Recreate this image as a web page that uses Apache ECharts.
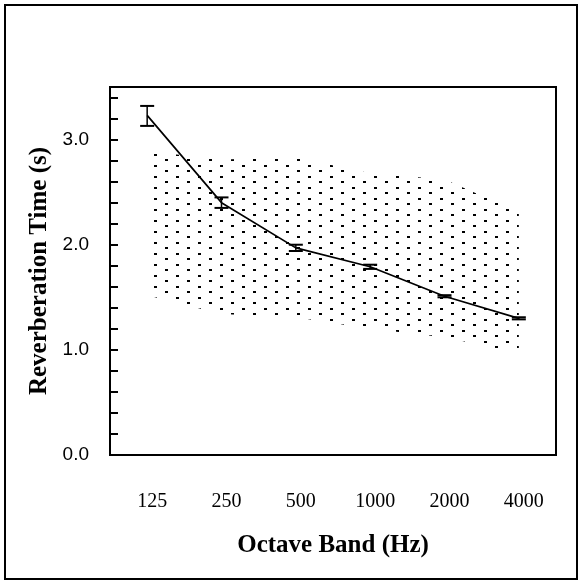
<!DOCTYPE html>
<html>
<head>
<meta charset="utf-8">
<script src="https://cdn.jsdelivr.net/npm/echarts@6/dist/echarts.min.js"></script>
<style>
html,body{margin:0;padding:0;background:#fff;}
#chart{width:580px;height:583px;}
</style>
</head>
<body>
<div id="chart"></div>
<script>
// ---- data ----
var categories = ['125', '250', '500', '1000', '2000', '4000'];
var meanRT   = [3.23, 2.40, 1.97, 1.79, 1.51, 1.30];
var errLow   = [3.13, 2.35, 1.94, 1.77, 1.50, 1.29];
var errHigh  = [3.32, 2.45, 2.00, 1.81, 1.52, 1.31];
var bandLower = [1.52, 1.34, 1.31, 1.20, 1.12, 0.97];
var bandUpper = [2.89, 2.81, 2.83, 2.68, 2.62, 2.31];
var yTickLabels = ['0.0', '1.0', '2.0', '3.0'];

// dotted pattern tile
function makePattern() {
  var c = document.createElement('canvas');
  c.width = 22; c.height = 11;
  var g = c.getContext('2d');
  g.fillStyle = '#000';
  g.fillRect(0, 0, 3, 2);
  g.fillRect(11, 5, 3, 2);
  return c;
}

var bandDiff = bandUpper.map(function (v, i) { return +(v - bandLower[i]).toFixed(3); });
var errData = categories.map(function (c, i) { return [i, errLow[i], errHigh[i]]; });

var chart = echarts.init(document.getElementById('chart'), null, {renderer: 'canvas'});
chart.setOption({
  animation: false,
  backgroundColor: '#fff',
  graphic: [{
    type: 'rect',
    shape: {x: 5, y: 5, width: 572, height: 574},
    style: {fill: 'none', stroke: '#000', lineWidth: 2},
    silent: true
  }],
  grid: {
    left: 110, top: 87, width: 446, height: 368,
    show: true, borderColor: '#000', borderWidth: 2, backgroundColor: 'transparent'
  },
  xAxis: {
    type: 'category',
    data: categories,
    boundaryGap: true,
    axisLine: {lineStyle: {color: '#000', width: 2}},
    axisTick: {inside: true, length: 8, lineStyle: {color: '#000', width: 2}},
    axisLabel: {
      color: '#000', fontFamily: 'Liberation Serif', fontSize: 20,
      margin: 37, padding: [0, 0, 0, 10]
    },
    splitLine: {show: false},
    name: 'Octave Band (Hz)',
    nameLocation: 'middle',
    nameGap: 78,
    nameTextStyle: {color: '#000', fontFamily: 'Liberation Serif', fontWeight: 'bold', fontSize: 25}
  },
  yAxis: {
    type: 'value',
    min: 0, max: 3.5, interval: 0.2,
    axisLine: {show: true, lineStyle: {color: '#000', width: 2}},
    axisTick: {show: true, inside: true, length: 8, lineStyle: {color: '#000', width: 2}},
    axisLabel: {
      color: '#000', fontFamily: 'Liberation Sans', fontSize: 19, margin: 21,
      formatter: function (v) {
        var r = Math.round(v);
        if (Math.abs(v - r) < 1e-6 && yTickLabels[r] !== undefined) return yTickLabels[r];
        return '';
      }
    },
    splitLine: {show: false},
    name: 'Reverberation Time (s)',
    nameLocation: 'middle',
    nameGap: 55,
    nameRotate: 90,
    nameTextStyle: {color: '#000', fontFamily: 'Liberation Serif', fontWeight: 'bold', fontSize: 25}
  },
  series: [
    {
      type: 'line', stack: 'band', data: bandLower,
      symbol: 'none', lineStyle: {opacity: 0}, silent: true, z: 1
    },
    {
      type: 'line', stack: 'band', data: bandDiff,
      symbol: 'none', lineStyle: {opacity: 0}, silent: true, z: 1,
      areaStyle: {color: {image: makePattern(), repeat: 'repeat'}, opacity: 1}
    },
    {
      type: 'line', data: meanRT, symbol: 'none', z: 3,
      lineStyle: {color: '#000', width: 1.7}
    },
    {
      type: 'custom', z: 4,
      data: errData,
      renderItem: function (params, api) {
        var x = api.value(0);
        var lo = api.coord([x, api.value(1)]);
        var hi = api.coord([x, api.value(2)]);
        var hw = 7;
        return {
          type: 'group',
          children: [
            {type: 'line', shape: {x1: lo[0], y1: lo[1], x2: hi[0], y2: hi[1]}, style: {stroke: '#000', lineWidth: 1.5}},
            {type: 'line', shape: {x1: lo[0] - hw, y1: lo[1], x2: lo[0] + hw, y2: lo[1]}, style: {stroke: '#000', lineWidth: 2}},
            {type: 'line', shape: {x1: hi[0] - hw, y1: hi[1], x2: hi[0] + hw, y2: hi[1]}, style: {stroke: '#000', lineWidth: 2}}
          ]
        };
      }
    }
  ]
});
</script>
</body>
</html>
